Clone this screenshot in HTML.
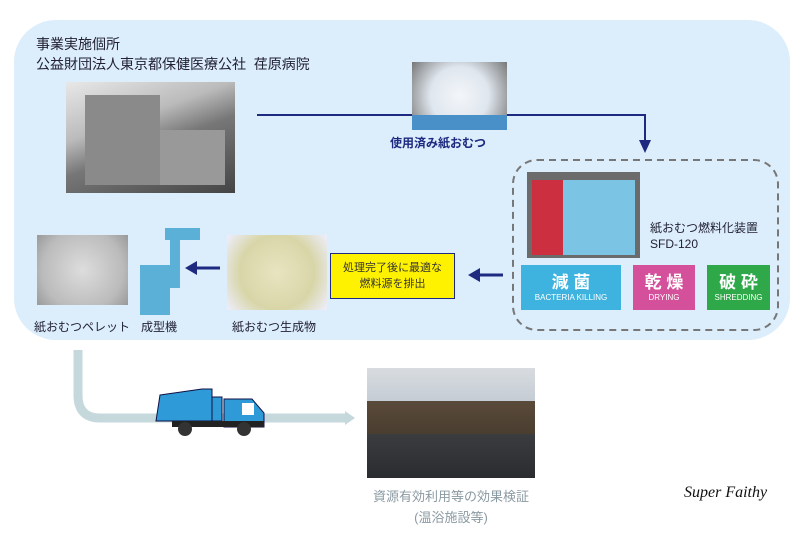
<!DOCTYPE html>
<html><head><meta charset="utf-8"><style>
body{margin:0;width:800px;height:534px;background:#fff;position:relative;overflow:hidden;font-family:"Liberation Sans","Noto Sans CJK JP",sans-serif}
.a{position:absolute}
.t{font-size:13px;color:#223}
</style></head><body>
<div class="a" style="left:14px;top:20px;width:776px;height:320px;background:#dcedfb;border-radius:42px"></div>
<div class="a t" style="left:36px;top:34px;font-size:14px;line-height:20px">事業実施個所<br>公益財団法人東京都保健医療公社&nbsp; 荏原病院</div>
<div class="a" style="left:66px;top:82px;width:169px;height:111px;background:linear-gradient(160deg,#e8e8e8 0%,#bbb 35%,#777 55%,#444 100%)"></div>
<div class="a" style="left:85px;top:95px;width:75px;height:90px;background:#8a8a8a"></div>
<div class="a" style="left:160px;top:130px;width:65px;height:55px;background:#999"></div>
<div class="a" style="left:412px;top:62px;width:95px;height:68px;background:radial-gradient(circle at 50% 50%,#f3f6fa 0%,#dfe6ee 50%,#777 100%)"></div>
<div class="a" style="left:412px;top:115px;width:95px;height:15px;background:#4a90c8"></div>
<div class="a" style="left:390px;top:134px;font-size:12px;font-weight:bold;color:#1d2a80">使用済み紙おむつ</div>
<svg class="a" style="left:0;top:0" width="800" height="534">
<polyline points="257,115 412,115" stroke="#1d2a80" stroke-width="2" fill="none"/>
<polyline points="507,115 645,115 645,143" stroke="#1d2a80" stroke-width="2" fill="none"/>
<polygon points="639,140 651,140 645,153" fill="#1d2a80"/>
<rect x="513" y="160" width="265" height="170" rx="24" fill="none" stroke="#777" stroke-width="2" stroke-dasharray="7,5"/>
<line x1="503" y1="275" x2="478" y2="275" stroke="#1d2a80" stroke-width="3"/>
<polygon points="480,268 480,282 468,275" fill="#1d2a80"/>
<line x1="220" y1="268" x2="195" y2="268" stroke="#1d2a80" stroke-width="3"/>
<polygon points="197,261 197,275 185,268" fill="#1d2a80"/>
<path d="M78,350 V395 Q78,418 100,418 H345" stroke="#c5d8dc" stroke-width="9" fill="none"/>
<polygon points="345,411 345,425 355,418" fill="#c5d8dc"/>
</svg>
<div class="a" style="left:527px;top:172px;width:113px;height:86px;background:#6b6b6b"></div>
<div class="a" style="left:532px;top:180px;width:103px;height:75px;background:linear-gradient(90deg,#cc3040 0%,#cc3040 30%,#7cc4e4 30%,#7cc4e4 100%)"></div>
<div class="a t" style="left:650px;top:220px;font-size:12px;line-height:16px">紙おむつ燃料化装置<br>SFD-120</div>
<div class="a" style="left:521px;top:265px;width:100px;height:45px;background:#3fb3df;color:#fff;text-align:center"><div style="font-size:17px;font-weight:bold;margin-top:3px">減 菌</div><div style="font-size:8px">BACTERIA KILLING</div></div>
<div class="a" style="left:633px;top:265px;width:62px;height:45px;background:#d4509a;color:#fff;text-align:center"><div style="font-size:17px;font-weight:bold;margin-top:3px">乾 燥</div><div style="font-size:8px">DRYING</div></div>
<div class="a" style="left:707px;top:265px;width:63px;height:45px;background:#2ea848;color:#fff;text-align:center"><div style="font-size:17px;font-weight:bold;margin-top:3px">破 砕</div><div style="font-size:8px">SHREDDING</div></div>
<div class="a" style="left:330px;top:253px;width:125px;height:46px;background:#fff200;border:1px solid #1d2a80;box-sizing:border-box;text-align:center;font-size:11px;line-height:16px;padding-top:6px;color:#333">処理完了後に最適な<br>燃料源を排出</div>
<div class="a" style="left:227px;top:235px;width:100px;height:75px;background:radial-gradient(circle,#e8e4c0 0%,#d8d6a8 60%,#eef 100%)"></div>
<div class="a" style="left:140px;top:265px;width:30px;height:50px;background:#5bb0d8"></div>
<div class="a" style="left:165px;top:228px;width:35px;height:12px;background:#5bb0d8"></div>
<div class="a" style="left:170px;top:238px;width:10px;height:50px;background:#5bb0d8"></div>
<div class="a" style="left:37px;top:235px;width:91px;height:70px;background:radial-gradient(circle,#ddd 0%,#bbb 70%,#999 100%)"></div>
<div class="a t" style="left:34px;top:318px;font-size:12px">紙おむつペレット</div>
<div class="a t" style="left:141px;top:318px;font-size:12px">成型機</div>
<div class="a t" style="left:232px;top:318px;font-size:12px">紙おむつ生成物</div>
<svg class="a" style="left:152px;top:383px" width="120" height="60">
<polygon points="8,12 50,6 60,6 60,38 4,38" fill="#2e9ad8" stroke="#114" stroke-width="1"/>
<rect x="60" y="14" width="10" height="24" fill="#2e9ad8" stroke="#114"/>
<polygon points="72,16 100,16 112,30 112,44 72,44" fill="#2e9ad8" stroke="#114"/>
<rect x="90" y="20" width="12" height="12" fill="#fff"/>
<rect x="20" y="38" width="92" height="6" fill="#222"/>
<circle cx="33" cy="46" r="7" fill="#333"/><circle cx="92" cy="46" r="7" fill="#333"/>
</svg>
<div class="a" style="left:367px;top:368px;width:168px;height:110px;background:linear-gradient(180deg,#d8dce0 0%,#c5ccd4 30%,#5a4a3a 30%,#4a3e30 60%,#3a3c40 60%,#2a2c30 100%)"></div>
<div class="a" style="left:365px;top:486px;width:172px;text-align:center;font-size:13px;line-height:21px;color:#8a9aa2">資源有効利用等の効果検証<br>(温浴施設等)</div>
<div class="a" style="left:684px;top:484px;font-family:'Liberation Serif',serif;font-style:italic;font-size:16px;color:#111">Super Faithy</div>
</body></html>
